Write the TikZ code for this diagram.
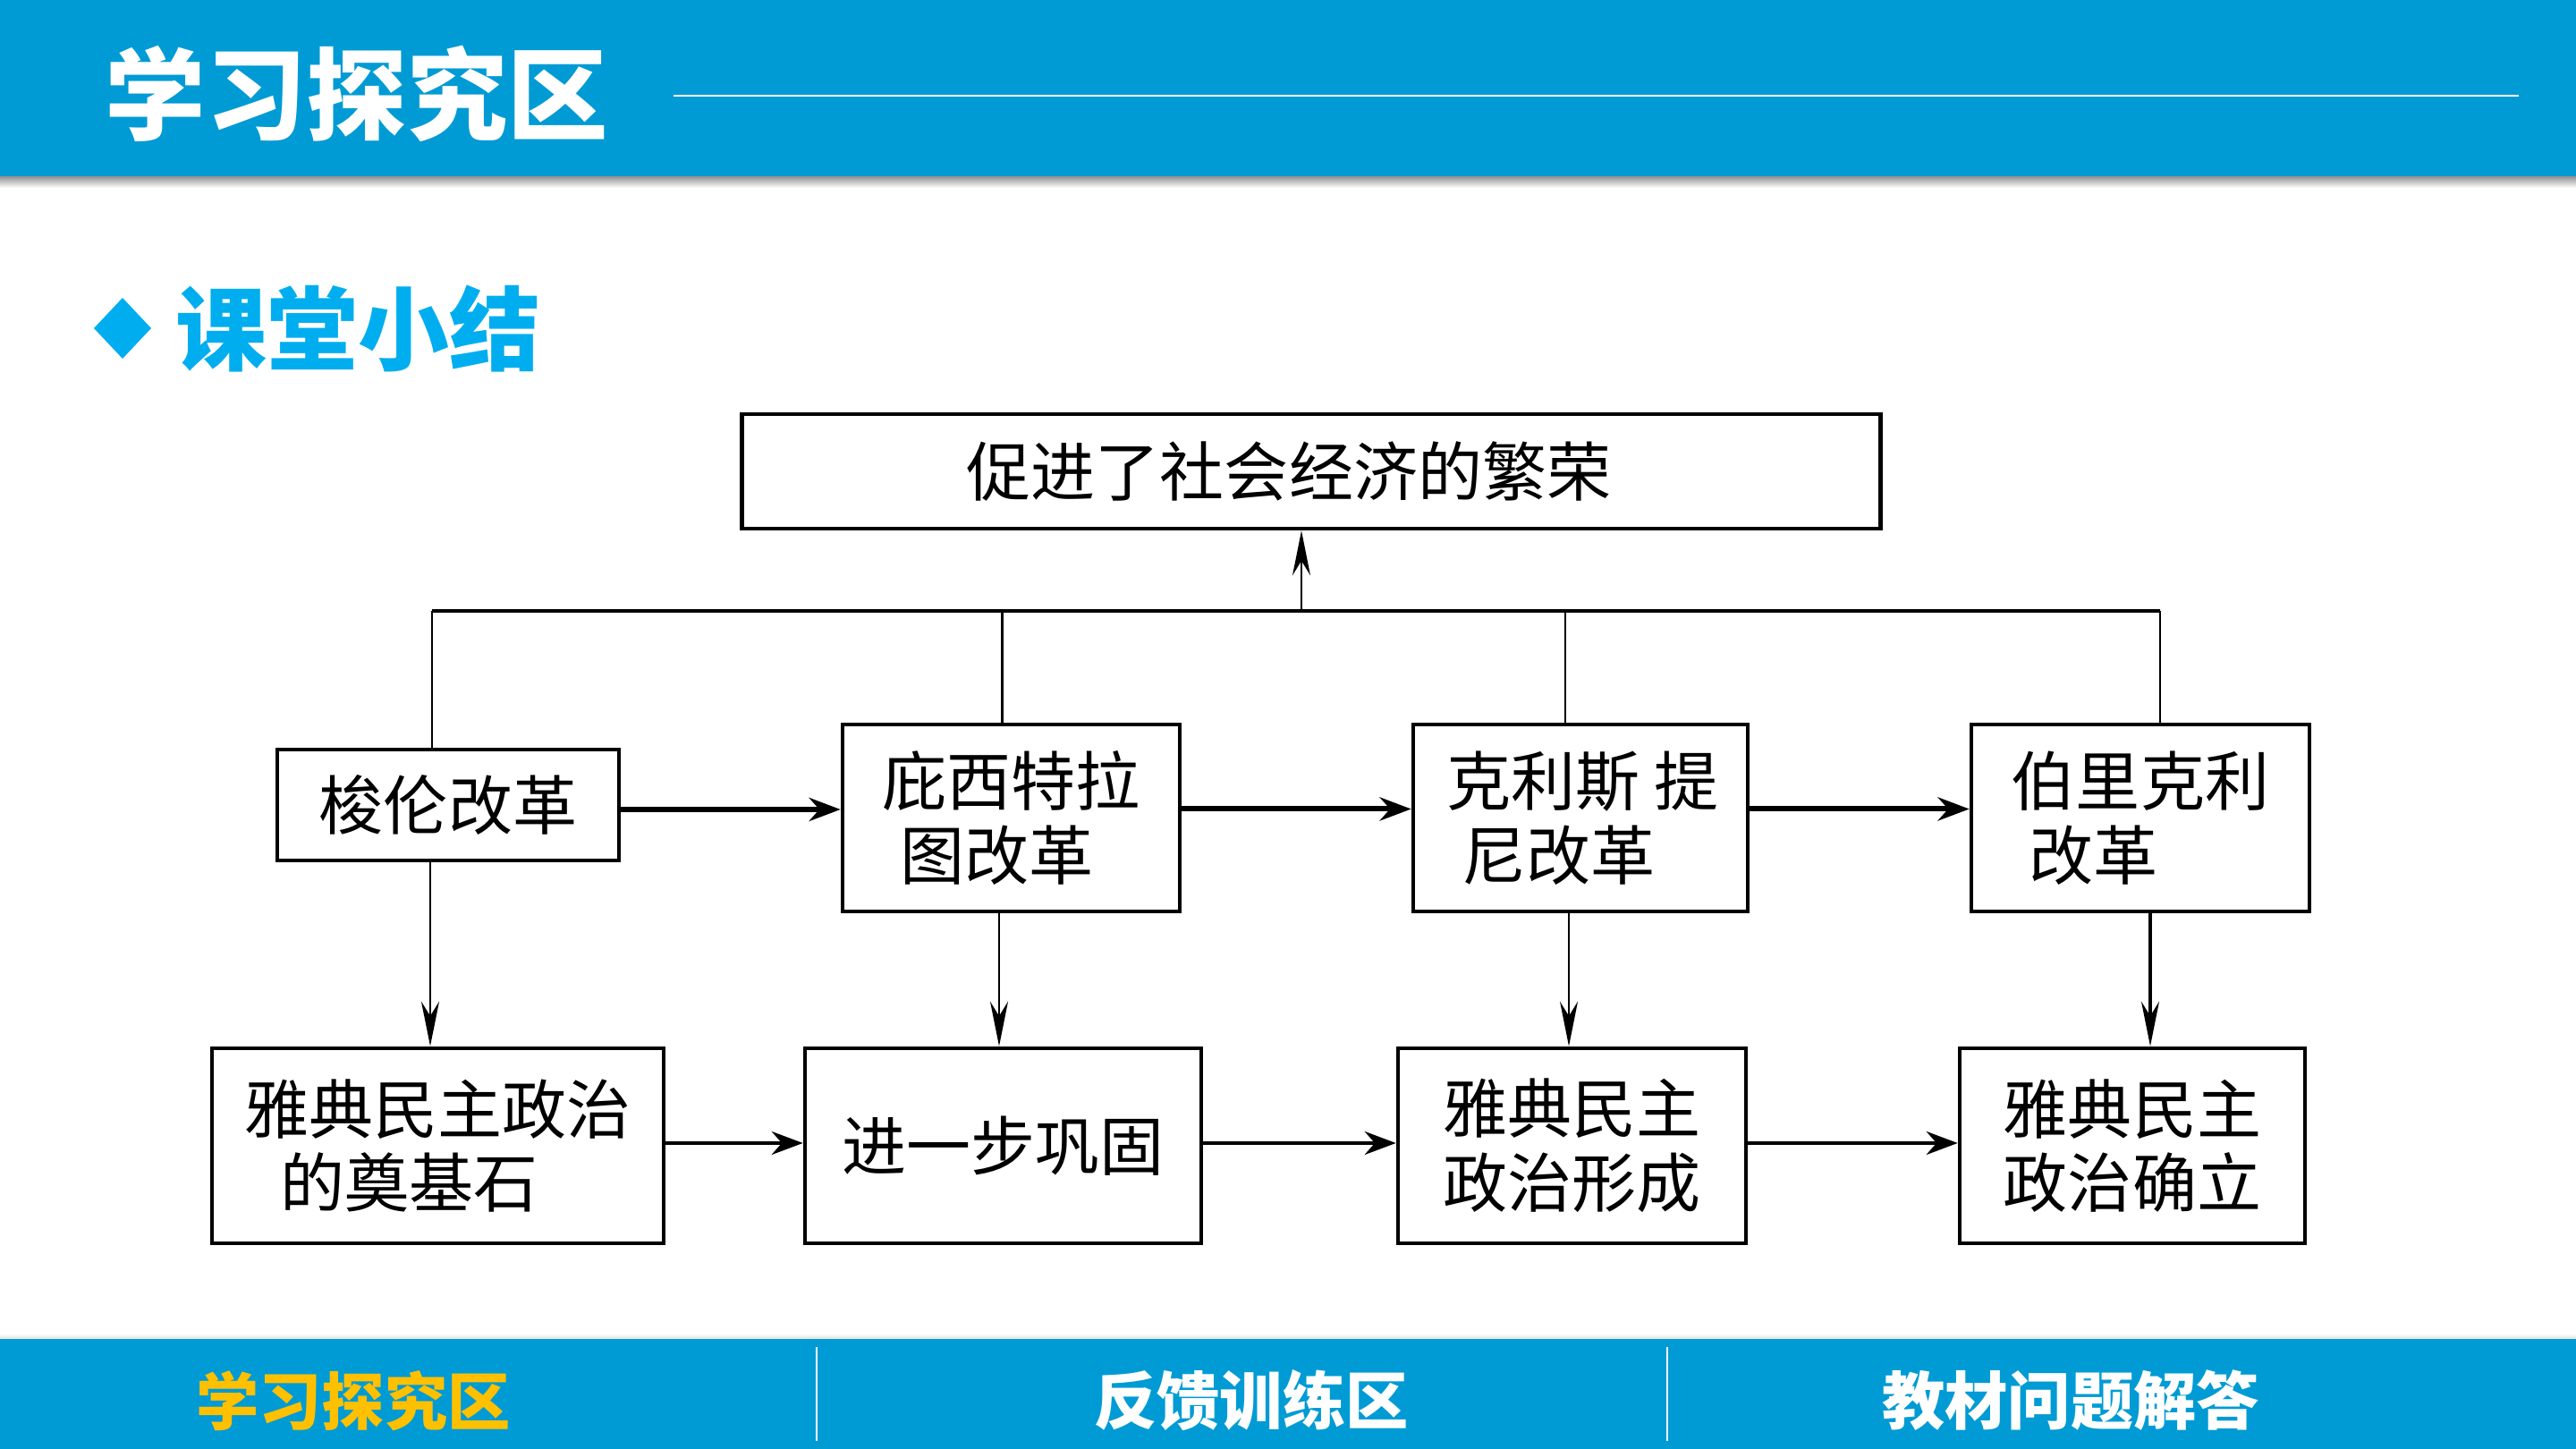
\documentclass[tikz,border=0pt]{standalone}
\usepackage{fontspec}
\setmainfont{Noto Sans CJK SC}
\usetikzlibrary{arrows.meta}

\definecolor{barblue}{RGB}{0,155,212}
\definecolor{titlecyan}{RGB}{0,174,239}
\definecolor{tabyellow}{RGB}{255,192,0}

\begin{document}
\begin{tikzpicture}[
  box/.style={draw=black, line width=1.3pt, fill=white, inner sep=0pt,
    font=\fontsize{20.5}{23.5}\selectfont},
  link/.style={line width=0.7pt},
  linkarrow/.style={line width=0.7pt, -{Stealth[length=0.5cm, width=0.2cm]}},
  fwd/.style={line width=1.7pt, -{Stealth[length=0.35cm, width=0.26cm]}},
  fwdthin/.style={line width=1.1pt, -{Stealth[length=0.35cm, width=0.26cm]}},
  tab/.style={inner sep=0pt, font=\fontsize{20}{20}\selectfont\bfseries}
]
  \useasboundingbox (0,0) rectangle (28.8,16.2);

  % Barra superior
  \fill[barblue] (0,14.22) rectangle (28.8,16.2);
  \shade[top color=gray!80, bottom color=white] (0,14.10) rectangle (28.8,14.22);
  \node[anchor=west, text=white, inner sep=0pt, font=\fontsize{32}{32}\selectfont\bfseries] (head) at (1.17,15.15) {学习探究区};
  \draw[white, line width=0.8pt] (7.53,15.13) -- (28.16,15.13);

  % Título de la sección
  \fill[titlecyan] (1.37,12.87) -- (1.69,12.53) -- (1.37,12.19) -- (1.05,12.53) -- cycle;
  \node[anchor=west, text=titlecyan, inner sep=0pt, font=\fontsize{29}{29}\selectfont\bfseries] (sum) at (1.96,12.53) {课堂小结};

  % Cajas
  \node[box, minimum width=12.73cm, minimum height=1.28cm] (top) at (14.66,10.93) {促进了社会经济的繁荣\kern0.5cm};

  \node[box, minimum width=3.82cm, minimum height=1.24cm] (solon) at (5.01,7.20) {梭伦改革};
  \node[box, align=left, minimum width=3.77cm, minimum height=2.09cm] (peis) at (11.305,7.055) {庇西特拉\\\hspace*{0.2cm}图改革};
  \node[box, align=left, minimum width=3.74cm, minimum height=2.09cm] (cleis) at (17.67,7.055) {\hspace*{0.05cm}克利斯 提\\\hspace*{0.22cm}尼改革};
  \node[box, align=left, minimum width=3.78cm, minimum height=2.09cm] (peric) at (23.93,7.055) {伯里克利\\\hspace*{0.2cm}改革};

  \node[box, align=left, minimum width=5.05cm, minimum height=2.18cm] (base) at (4.895,3.39) {雅典民主政治\\\hspace*{0.4cm}的奠基石};
  \node[box, minimum width=4.43cm, minimum height=2.18cm] (consol) at (11.215,3.39) {进一步巩固};
  \node[box, align=left, minimum width=3.89cm, minimum height=2.18cm] (formed) at (17.575,3.39) {雅典民主\\政治形成};
  \node[box, align=left, minimum width=3.86cm, minimum height=2.18cm] (fixed) at (23.84,3.39) {雅典民主\\政治确立};

  % Línea colectora hacia la caja superior
  \coordinate (busL) at (4.83,9.37);
  \coordinate (busR) at (24.15,9.37);
  \draw[line width=1.2pt] (busL) -- (busR);
  \draw[link] ([xshift=-0.18cm]solon.north) -- ([xshift=-0.18cm]solon.north |- busL);
  \draw[link] ([xshift=-0.10cm]peis.north) -- ([xshift=-0.10cm]peis.north |- busL);
  \draw[link] ([xshift=-0.17cm]cleis.north) -- ([xshift=-0.17cm]cleis.north |- busL);
  \draw[link] ([xshift=0.22cm]peric.north) -- ([xshift=0.22cm]peric.north |- busL);
  \draw[linkarrow] ([xshift=-0.11cm]top.south |- busL) -- ([xshift=-0.11cm]top.south);

  % Flechas entre reformas
  \draw[fwd] ([yshift=-0.05cm]solon.east) -- ([yshift=-0.05cm]solon.east -| peis.west);
  \draw[fwd] ([yshift=0.1cm]peis.east) -- ([yshift=0.1cm]cleis.west);
  \draw[fwd] ([yshift=0.1cm]cleis.east) -- ([yshift=0.1cm]peric.west);

  % Flechas hacia los resultados
  \draw[linkarrow] ([xshift=-0.20cm]solon.south) -- ([xshift=-0.20cm]solon.south |- base.north);
  \draw[linkarrow] ([xshift=-0.135cm]peis.south) -- ([xshift=-0.135cm]peis.south |- consol.north);
  \draw[linkarrow] ([xshift=-0.13cm]cleis.south) -- ([xshift=-0.13cm]cleis.south |- formed.north);
  \draw[linkarrow, line width=1pt] ([xshift=0.11cm]peric.south) -- ([xshift=0.11cm]peric.south |- fixed.north);

  % Flechas entre resultados
  \draw[fwdthin] ([yshift=0.03cm]base.east) -- ([yshift=0.03cm]consol.west);
  \draw[fwdthin] ([yshift=0.03cm]consol.east) -- ([yshift=0.03cm]formed.west);
  \draw[fwdthin] ([yshift=0.03cm]formed.east) -- ([yshift=0.03cm]fixed.west);

  % Barra inferior
  \fill[barblue] (0,0) rectangle (28.8,1.23);
  \shade[top color=white, bottom color=gray!25] (0,1.23) rectangle (28.8,1.29);
  \draw[white, line width=0.7pt] (9.13,0.09) -- (9.13,1.14);
  \draw[white, line width=0.7pt] (18.64,0.09) -- (18.64,1.14);
  \node[tab, text=tabyellow] (tab1) at (3.95,0.54) {学习探究区};
  \node[tab, text=white] (tab2) at (13.99,0.54) {反馈训练区};
  \node[tab, text=white] (tab3) at (23.15,0.54) {教材问题解答};
\end{tikzpicture}
\end{document}
